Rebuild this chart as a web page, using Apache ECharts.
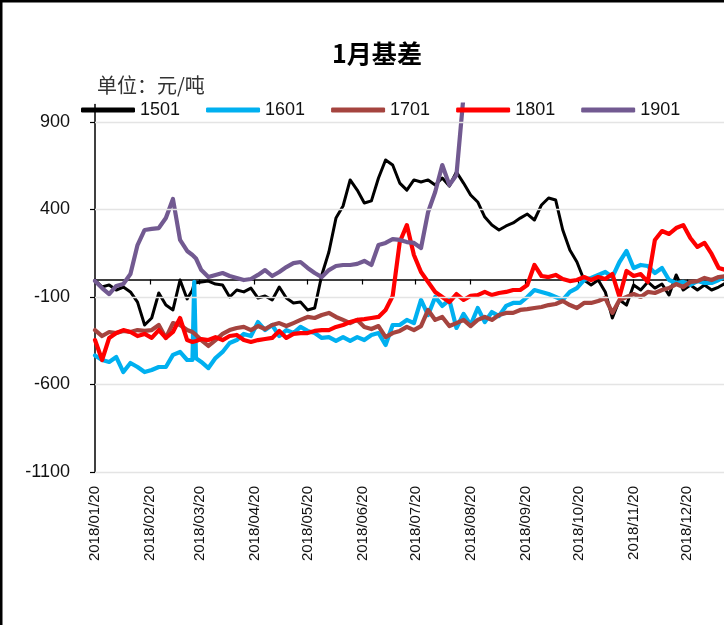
<!DOCTYPE html>
<html>
<head>
<meta charset="utf-8">
<script src="https://cdn.jsdelivr.net/npm/echarts@6/dist/echarts.min.js"></script>
<style>
html,body{margin:0;padding:0;background:#fff;}
#c{width:724px;height:625px;}
</style>
</head>
<body>
<div id="c"></div>
<script>
// x positions (dates)
const dates = [
'2018-01-20','2018-01-24','2018-01-28','2018-02-01','2018-02-05','2018-02-09','2018-02-13','2018-02-17','2018-02-21','2018-02-25',
'2018-03-01','2018-03-05','2018-03-09','2018-03-13','2018-03-16','2018-03-17','2018-03-18','2018-03-21','2018-03-25','2018-03-29',
'2018-04-02','2018-04-06','2018-04-10','2018-04-14','2018-04-18','2018-04-22','2018-04-26','2018-04-30',
'2018-05-04','2018-05-08','2018-05-12','2018-05-16','2018-05-20','2018-05-24','2018-05-28',
'2018-06-01','2018-06-05','2018-06-09','2018-06-13','2018-06-17','2018-06-21','2018-06-25','2018-06-29',
'2018-07-03','2018-07-07','2018-07-11','2018-07-15','2018-07-19','2018-07-23','2018-07-27','2018-07-31',
'2018-08-04','2018-08-08','2018-08-12','2018-08-16','2018-08-20','2018-08-24','2018-08-28',
'2018-09-01','2018-09-05','2018-09-09','2018-09-13','2018-09-17','2018-09-21','2018-09-25','2018-09-29',
'2018-10-03','2018-10-07','2018-10-11','2018-10-15','2018-10-19','2018-10-23','2018-10-27','2018-10-31',
'2018-11-04','2018-11-08','2018-11-12','2018-11-16','2018-11-20','2018-11-24','2018-11-28',
'2018-12-02','2018-12-06','2018-12-10','2018-12-14','2018-12-18','2018-12-22','2018-12-26','2018-12-30',
'2019-01-03','2019-01-07','2019-01-11'
];

const s1501 = [
-3,-43,-31,-60,-43,-71,-129,-260,-220,-77,
-146,-174,-3,-111,-60,-20,-14,-14,-9,-26,
-31,-100,-60,-71,-49,-106,-94,-117,
-43,-106,-134,-129,-174,-163,26,
157,351,420,569,511,437,449,580,
683,654,551,511,569,557,569,540,
580,534,614,551,483,443,357,
311,283,306,323,351,374,340,426,
466,454,283,169,100,-3,-31,-3,
-71,-220,-117,-146,-31,-60,-14,
-49,-26,-89,26,-60,-31,-60,-31,
-60,-43,-20
];

const s1601 = [
-434,-460,-471,-443,-529,-477,-500,-529,-517,-500,
-500,-431,-414,-460,-460,-14,-450,-471,-506,-449,
-414,-363,-346,-311,-323,-243,-289,-260,
-323,-289,-306,-271,-294,-306,-334,
-329,-351,-329,-351,-329,-346,-317,-306,
-374,-260,-260,-231,-249,-117,-203,-100,
-151,-117,-277,-197,-260,-163,-243,
-186,-209,-151,-134,-134,-100,-60,-71,
-83,-100,-117,-71,-49,-3,9,26,
43,14,100,163,66,83,77,
37,66,-3,-20,-14,-31,-9,-20,
-20,-3,20
];

const s1701 = [
-289,-323,-300,-306,-294,-300,-289,-294,-289,-260,
-334,-249,-260,-289,-300,-306,-317,-346,-380,-346,
-311,-289,-277,-271,-289,-266,-283,-260,
-249,-266,-249,-231,-214,-220,-203,
-191,-214,-231,-249,-231,-271,-283,-266,
-329,-306,-294,-271,-289,-266,-174,-231,
-214,-266,-249,-231,-266,-231,-214,
-231,-203,-191,-191,-174,-169,-163,-157,
-146,-140,-123,-146,-163,-134,-134,-123,
-106,-191,-117,-100,-83,-100,-71,
-77,-60,-49,-26,-43,-14,-9,9,
-3,14,20
];

const s1801 = [
-346,-460,-334,-306,-289,-300,-323,-311,-334,-289,
-334,-300,-220,-346,-357,-357,-351,-340,-346,-329,
-346,-323,-317,-346,-357,-346,-340,-334,
-294,-334,-311,-306,-306,-294,-289,
-289,-271,-260,-243,-231,-226,-220,-214,
-174,-94,214,311,140,43,-14,-71,
-100,-129,-83,-117,-94,-89,-71,
-89,-77,-71,-60,-60,-31,83,20,
14,26,3,-9,-3,14,-3,14,
3,31,-100,49,20,31,-14,
226,277,260,294,311,237,186,209,
146,66,54
];

// 1901 ends in mid-August (runs off the top of the chart)
const s1901 = [
-9,-49,-83,-37,-26,31,197,283,289,294,
351,460,226,163,140,129,120,54,14,26,
37,20,9,-3,3,26,54,20,
43,71,94,100,66,37,14,
54,77,83,83,89,106,83,197,
209,231,226,214,209,180,386,500,
654,540,597,1050
];

const seriesNames = ['1501','1601','1701','1801','1901'];
const seriesValues = [s1501, s1601, s1701, s1801, s1901];
const seriesColors = ['#000000','#00B0F0','#A5443F','#FF0000','#725A91'];
const seriesWidths = [3, 4.2, 4.2, 4.2, 4.2];

const tickDates = ['2018-01-20','2018-02-20','2018-03-20','2018-04-20','2018-05-20','2018-06-20',
                   '2018-07-20','2018-08-20','2018-09-20','2018-10-20','2018-11-20','2018-12-20'];
const yTicks = [-1100, -600, -100, 400, 900];
const xStart = '2018-01-20';
const xEnd = '2019-01-10';

function toTs(s){ const p = s.split('-'); return new Date(+p[0], +p[1]-1, +p[2]).getTime(); }
function pad(n){ return (n < 10 ? '0' : '') + n; }
function fmtDate(v){ const d = new Date(v); return d.getFullYear() + '/' + pad(d.getMonth()+1) + '/' + pad(d.getDate()); }

const tickTs = tickDates.map(toTs);
const FONT = 'Liberation Sans';

const series = seriesNames.map((name, i) => ({
  name: name,
  type: 'line',
  xAxisIndex: 0,
  yAxisIndex: 0,
  symbol: 'none',
  showSymbol: false,
  clip: true,
  animation: false,
  itemStyle: { color: seriesColors[i] },
  lineStyle: { color: seriesColors[i], width: seriesWidths[i], cap: 'round', join: 'round' },
  emphasis: { disabled: true },
  data: seriesValues[i].map((v, k) => [toTs(dates[k]), v])
}));

// gridlines at the tick values
series.unshift({
  name: 'gridlines',
  type: 'line',
  data: [],
  z: 0,
  silent: true,
  animation: false,
  markLine: {
    silent: true,
    animation: false,
    symbol: ['none', 'none'],
    label: { show: false },
    emphasis: { disabled: true },
    lineStyle: { color: '#e4e4e4', width: 1.3, type: 'solid' },
    data: yTicks.map(v => ({ yAxis: v }))
  }
});

const chart = echarts.init(document.getElementById('c'));
chart.setOption({
  backgroundColor: '#fff',
  animation: false,
  textStyle: { fontFamily: FONT },
  grid: { left: 95, right: 0, top: 104.5, bottom: 153, containLabel: false },
  legend: {
    data: seriesNames,
    left: 81,
    top: 101,
    padding: 0,
    itemWidth: 54,
    itemHeight: 5,
    itemGap: 26,
    icon: 'roundRect',
    selectedMode: false,
    textStyle: { fontSize: 18, color: '#111', fontFamily: FONT, lineHeight: 18 }
  },
  xAxis: [
    {
      type: 'value',
      min: toTs(xStart),
      max: toTs(xEnd),
      position: 'bottom',
      axisLine: { show: false, onZero: false },
      axisTick: { show: false },
      splitLine: { show: false },
      axisLabel: {
        customValues: tickTs,
        rotate: 90,
        margin: 14,
        fontSize: 15,
        color: '#111',
        fontFamily: FONT,
        hideOverlap: false,
        formatter: fmtDate
      }
    },
    {
      type: 'value',
      min: toTs(xStart),
      max: toTs(xEnd),
      position: 'bottom',
      axisLine: { show: true, onZero: true, lineStyle: { color: '#000', width: 1.5 } },
      axisTick: { show: true, customValues: tickTs, length: 5, inside: false, lineStyle: { color: '#000', width: 1.2 } },
      axisLabel: { show: false },
      splitLine: { show: false }
    }
  ],
  yAxis: {
    type: 'value',
    min: -1100,
    max: 1000,
    axisLine: { show: true, lineStyle: { color: '#000', width: 1.5 } },
    axisTick: { show: true, customValues: yTicks, length: 5, inside: false, lineStyle: { color: '#000', width: 1.2 } },
    axisLabel: { customValues: yTicks, fontSize: 18, color: '#111', margin: 25, fontFamily: FONT,
                 formatter: v => String(v) },
    splitLine: { show: false }
  },
  graphic: [
    { type: 'rect', silent: true, shape: { x: 0, y: 0, width: 2.5, height: 625 }, style: { fill: '#000' } },
    { type: 'rect', silent: true, shape: { x: 0, y: 0, width: 724, height: 2.5 }, style: { fill: '#000' } },
    { type: 'text', silent: true, x: 377, y: 53,
      style: { text: '1月基差', font: 'bold 25px "Noto Sans CJK SC"', fill: '#000', align: 'center', verticalAlign: 'middle' } },
    { type: 'text', silent: true, x: 97, y: 85,
      style: { text: '单位：元/吨', font: '20px "Noto Sans CJK SC"', fill: '#333', align: 'left', verticalAlign: 'middle' } }
  ],
  series: series
});
</script>
</body>
</html>
